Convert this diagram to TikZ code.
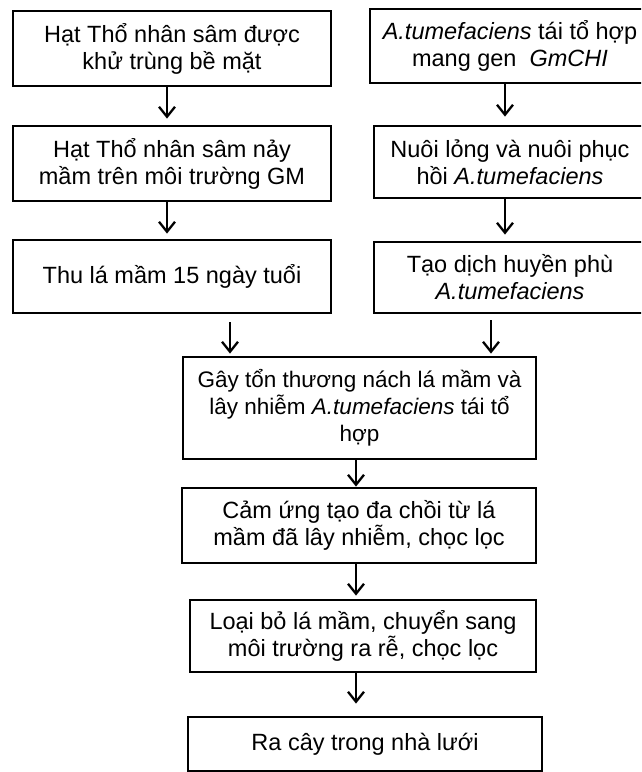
\documentclass[tikz,border=0pt]{standalone}
\usepackage{fontspec}
\setmainfont{Liberation Sans}
\usetikzlibrary{arrows.meta}
\begin{document}
\begin{tikzpicture}[x=1pt,y=-1pt,
  box/.style={draw, line width=2.8pt, align=center, inner sep=0pt, font=\fontsize{23.5}{27}\selectfont},
  arr/.style={line width=2.3pt, -{Straight Barb[length=10pt,width=16pt,line width=2.3pt]}}]
\useasboundingbox (0,0) rectangle (641,772);
\clip (0,0) rectangle (641,772);
% left column
\node[box, minimum width=318pt, minimum height=75pt] (l1) at (172,48.5) {Hạt Thổ nhân sâm được\\khử trùng bề mặt};
\node[box, minimum width=318pt, minimum height=75pt] (l2) at (172,163.5) {Hạt Thổ nhân sâm nảy\\mầm trên môi trường GM};
\node[box, minimum width=318pt, minimum height=73pt] (l3) at (172,276.5) {Thu lá mầm 15 ngày tuổi};
% right column
\node[box, minimum width=280pt, minimum height=74pt] (r1) at (510,46) {\textit{A.tumefaciens} tái tổ hợp\\mang gen\ \ \textit{GmCHI}};
\node[box, minimum width=272pt, minimum height=72pt] (r2) at (510,162) {Nuôi lỏng và nuôi phục\\hồi \textit{A.tumefaciens}};
\node[box, minimum width=272pt, minimum height=71pt] (r3) at (510,277.5) {Tạo dịch huyền phù\\\textit{A.tumefaciens}};
% middle column
\node[box, minimum width=353pt, minimum height=102pt, font=\fontsize{22.5}{27}\selectfont] (m1) at (359.5,408) {Gây tổn thương nách lá mầm và\\lây nhiễm \textit{A.tumefaciens} tái tổ\\hợp};
\node[box, minimum width=354pt, minimum height=75pt] (m2) at (359,525.5) {Cảm ứng tạo đa chồi từ lá\\mầm đã lây nhiễm, chọc lọc};
\node[box, minimum width=346pt, minimum height=72pt] (m3) at (363,636) {Loại bỏ lá mầm, chuyển sang\\môi trường ra rễ, chọc lọc};
\node[box, minimum width=354pt, minimum height=54pt] (m4) at (365,744) {Ra cây trong nhà lưới};
% free arrow starts
\coordinate (c1) at (230,322);
\coordinate (c2) at (491,320);
% connectors
\draw[arr, shorten >=6pt] ([xshift=-5pt]l1.south) -- ([xshift=-5pt]l2.north);
\draw[arr, shorten >=5pt] ([xshift=-5pt]l2.south) -- ([xshift=-5pt]l3.north);
\draw[arr, shorten >=8pt] ([xshift=-5pt]r1.south) -- ([xshift=-5pt]r2.north);
\draw[arr, shorten >=6pt] ([xshift=-5pt]r2.south) -- ([xshift=-5pt]r3.north);
\draw[arr, shorten >=2pt] (c1) -- (c1 |- m1.north);
\draw[arr, shorten >=2pt] (c2) -- (c2 |- m1.north);
\draw[arr] ([xshift=-3.5pt]m1.south) -- ([xshift=-3.5pt]m1.south |- m2.north);
\draw[arr, shorten >=3pt] ([xshift=-3pt]m2.south) -- ([xshift=-3pt]m2.south |- m3.north);
\draw[arr, shorten >=12pt] ([xshift=-7pt]m3.south) -- ([xshift=-7pt]m3.south |- m4.north);
\end{tikzpicture}
\end{document}
